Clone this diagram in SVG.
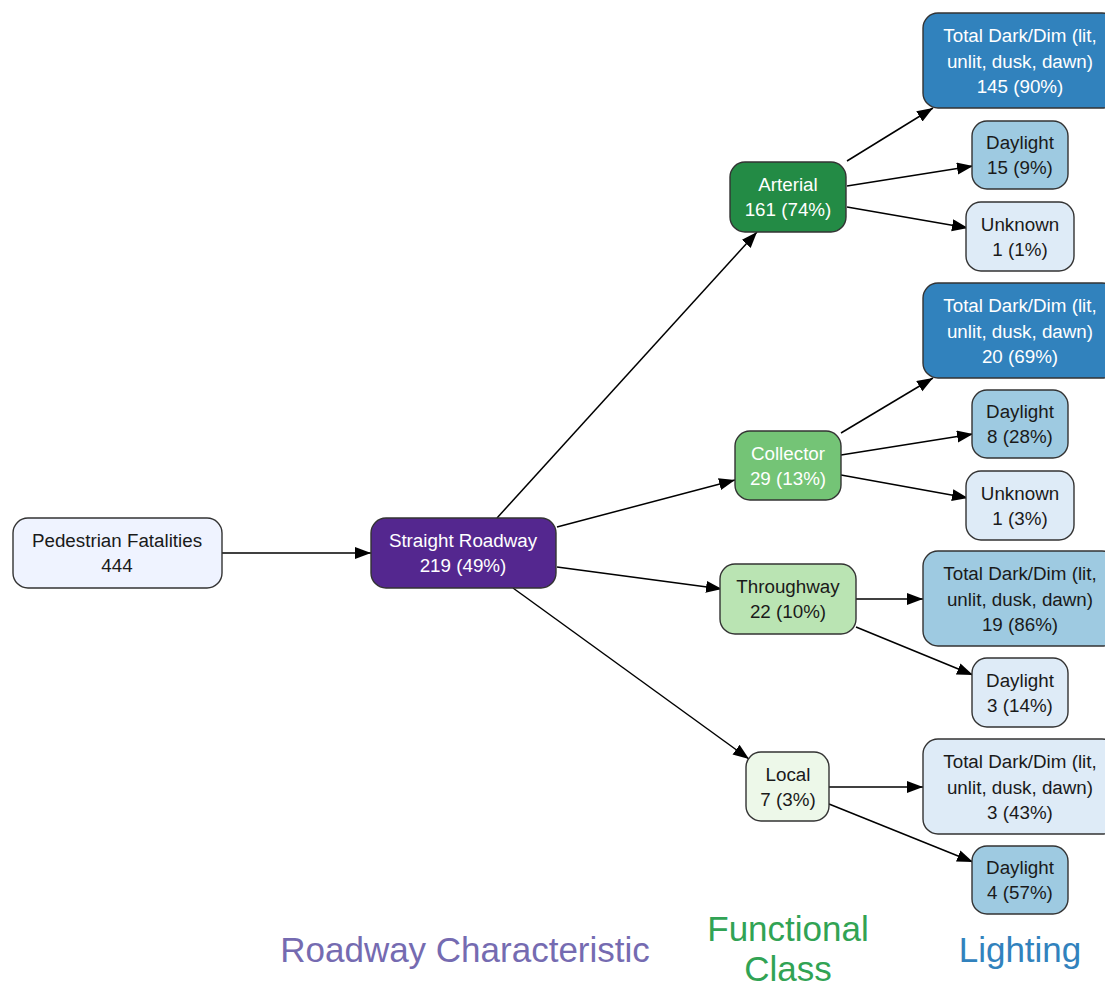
<svg xmlns="http://www.w3.org/2000/svg" width="1105" height="987" viewBox="0 0 1105 987">
<style>
  .n { stroke: #333333; stroke-width: 1.4; }
  .t { font-family: "Liberation Sans", Arial, sans-serif; font-size: 18.8px; text-anchor: middle; }
  .w { fill: #ffffff; }
  .d { fill: #1a1a1a; }
  .e { stroke: #000000; stroke-width: 1.5; fill: none; marker-end: url(#arr); }
  .lab { font-family: "Liberation Sans", Arial, sans-serif; font-size: 35px; text-anchor: middle; }
</style>
<defs>
  <marker id="arr" markerUnits="userSpaceOnUse" markerWidth="17" markerHeight="13" refX="16" refY="6" orient="auto">
    <path d="M0,0 L16,6 L0,12 Z" fill="#000000"/>
  </marker>
</defs>
<rect width="1105" height="987" fill="#ffffff"/>

<g id="connectors">
  <line class="e" x1="222" y1="553" x2="371" y2="553"/>
  <line class="e" x1="497" y1="518" x2="757" y2="232"/>
  <line class="e" x1="557" y1="527" x2="735" y2="480"/>
  <line class="e" x1="557" y1="567" x2="722" y2="589"/>
  <line class="e" x1="513" y1="588" x2="749" y2="759"/>
  <line class="e" x1="847" y1="161" x2="933" y2="108"/>
  <line class="e" x1="847" y1="186" x2="973" y2="166"/>
  <line class="e" x1="847" y1="207" x2="968" y2="228"/>
  <line class="e" x1="841" y1="433" x2="933" y2="378"/>
  <line class="e" x1="841" y1="455" x2="973" y2="434"/>
  <line class="e" x1="841" y1="475" x2="968" y2="498"/>
  <line class="e" x1="856" y1="599" x2="923" y2="599"/>
  <line class="e" x1="856" y1="627" x2="973" y2="675"/>
  <line class="e" x1="829" y1="787" x2="923" y2="787"/>
  <line class="e" x1="829" y1="804" x2="973" y2="862"/>
</g>

<g id="ped">
  <rect class="n" x="13" y="518" width="209" height="70" rx="15" fill="#eff3ff"/>
  <text class="t d" x="117" y="547">Pedestrian Fatalities</text>
  <text class="t d" x="117" y="572">444</text>
</g>
<g id="straight">
  <rect class="n" x="371" y="518" width="185" height="70" rx="15" fill="#54278f"/>
  <text class="t w" x="463" y="547">Straight Roadway</text>
  <text class="t w" x="463" y="572">219 (49%)</text>
</g>

<g id="arterial">
  <rect class="n" x="730" y="162" width="116" height="70" rx="15" fill="#238b45"/>
  <text class="t w" x="788" y="191">Arterial</text>
  <text class="t w" x="788" y="216">161 (74%)</text>
</g>
<g id="collector">
  <rect class="n" x="735" y="431" width="106" height="69" rx="15" fill="#74c476"/>
  <text class="t w" x="788" y="460">Collector</text>
  <text class="t w" x="788" y="485">29 (13%)</text>
</g>
<g id="throughway">
  <rect class="n" x="720" y="564" width="136" height="70" rx="15" fill="#bae4b3"/>
  <text class="t d" x="788" y="593">Throughway</text>
  <text class="t d" x="788" y="618">22 (10%)</text>
</g>
<g id="local">
  <rect class="n" x="746" y="752" width="83" height="69" rx="15" fill="#edf8e9"/>
  <text class="t d" x="788" y="781">Local</text>
  <text class="t d" x="788" y="806">7 (3%)</text>
</g>

<g id="art_dark">
  <rect class="n" x="923" y="13" width="194" height="95" rx="15" fill="#3182bd"/>
  <text class="t w" x="1020" y="42">Total Dark/Dim (lit,</text>
  <text class="t w" x="1020" y="68">unlit, dusk, dawn)</text>
  <text class="t w" x="1020" y="93">145 (90%)</text>
</g>
<g id="art_day">
  <rect class="n" x="972" y="121" width="96" height="68" rx="15" fill="#9ecae1"/>
  <text class="t d" x="1020" y="149">Daylight</text>
  <text class="t d" x="1020" y="174">15 (9%)</text>
</g>
<g id="art_unk">
  <rect class="n" x="966" y="202" width="108" height="69" rx="15" fill="#deebf7"/>
  <text class="t d" x="1020" y="231">Unknown</text>
  <text class="t d" x="1020" y="256">1 (1%)</text>
</g>

<g id="col_dark">
  <rect class="n" x="923" y="283" width="194" height="95" rx="15" fill="#3182bd"/>
  <text class="t w" x="1020" y="312">Total Dark/Dim (lit,</text>
  <text class="t w" x="1020" y="338">unlit, dusk, dawn)</text>
  <text class="t w" x="1020" y="363">20 (69%)</text>
</g>
<g id="col_day">
  <rect class="n" x="972" y="390" width="96" height="68" rx="15" fill="#9ecae1"/>
  <text class="t d" x="1020" y="418">Daylight</text>
  <text class="t d" x="1020" y="443">8 (28%)</text>
</g>
<g id="col_unk">
  <rect class="n" x="966" y="471" width="108" height="69" rx="15" fill="#deebf7"/>
  <text class="t d" x="1020" y="500">Unknown</text>
  <text class="t d" x="1020" y="525">1 (3%)</text>
</g>

<g id="thr_dark">
  <rect class="n" x="923" y="551" width="194" height="95" rx="15" fill="#9ecae1"/>
  <text class="t d" x="1020" y="580">Total Dark/Dim (lit,</text>
  <text class="t d" x="1020" y="606">unlit, dusk, dawn)</text>
  <text class="t d" x="1020" y="631">19 (86%)</text>
</g>
<g id="thr_day">
  <rect class="n" x="972" y="658" width="96" height="69" rx="15" fill="#deebf7"/>
  <text class="t d" x="1020" y="687">Daylight</text>
  <text class="t d" x="1020" y="712">3 (14%)</text>
</g>

<g id="loc_dark">
  <rect class="n" x="923" y="739" width="194" height="95" rx="15" fill="#deebf7"/>
  <text class="t d" x="1020" y="768">Total Dark/Dim (lit,</text>
  <text class="t d" x="1020" y="794">unlit, dusk, dawn)</text>
  <text class="t d" x="1020" y="819">3 (43%)</text>
</g>
<g id="loc_day">
  <rect class="n" x="972" y="846" width="96" height="68" rx="15" fill="#9ecae1"/>
  <text class="t d" x="1020" y="874">Daylight</text>
  <text class="t d" x="1020" y="899">4 (57%)</text>
</g>

<g id="labels">
  <text class="lab" x="465" y="962" fill="#756bb1">Roadway Characteristic</text>
  <text class="lab" x="788" y="941" fill="#31a354">Functional</text>
  <text class="lab" x="788" y="981" fill="#31a354">Class</text>
  <text class="lab" x="1020" y="962" fill="#3182bd">Lighting</text>
</g>
</svg>
